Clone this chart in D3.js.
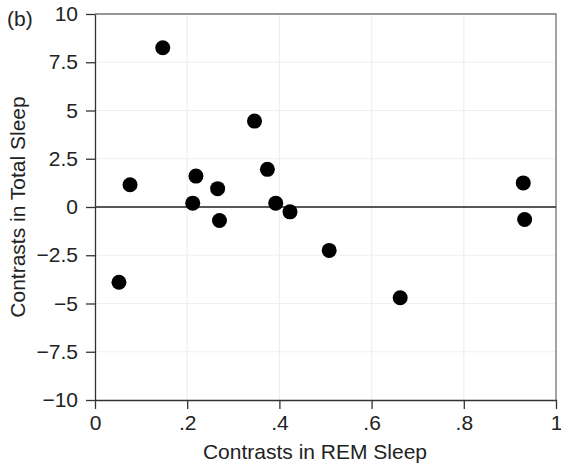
<!DOCTYPE html>
<html>

<head>
  <script src="https://cdn.jsdelivr.net/npm/d3@7"></script>
  <style>
    body {
      margin: 0;
      background: #fff;
      font-family: "Liberation Sans", Arial, sans-serif;
    }

    .grid line {
      stroke: #efefef;
      stroke-width: 1.2px;
    }

    .axis path,
    .axis line {
      stroke: #333;
      stroke-width: 1.3px;
    }

    .axis text {
      font-size: 21px;
      fill: #222;
    }

    .label {
      font-size: 21px;
      fill: #222;
    }
  </style>
</head>

<body>
  <div id="chart"></div>
  <script>
    // contrasts in REM sleep (x) and total sleep (y)
    const remContrasts = [0.052, 0.076, 0.147, 0.212, 0.219, 0.266, 0.27, 0.346, 0.374, 0.392, 0.423, 0.508, 0.662, 0.929, 0.932];
    const totalContrasts = [-3.9, 1.15, 8.25, 0.2, 1.6, 0.95, -0.7, 4.45, 1.95, 0.2, -0.25, -2.25, -4.7, 1.25, -0.65];
    const xTicks = [0, 0.2, 0.4, 0.6, 0.8, 1];
    const yTicks = [-10, -7.5, -5, -2.5, 0, 2.5, 5, 7.5, 10];

    const width = 561;
    const height = 469;
    const margin = { top: 14, right: 5, bottom: 69, left: 95 };

    const svg = d3.select("#chart").append("svg")
      .attr("width", width)
      .attr("height", height);

    const x = d3.scaleLinear().domain([0, 1]).range([margin.left, width - margin.right]);
    const y = d3.scaleLinear().domain([-10, 10]).range([height - margin.bottom, margin.top]);

    const fmtX = d => d === 0 ? "0" : d === 1 ? "1" : d3.format(".1f")(d).replace(/^0/, "");
    const fmtY = d => String(d).replace("-", "\u2212");

    // faint grid
    const grid = svg.append("g").attr("class", "grid");
    grid.selectAll(".gx").data(xTicks.slice(1)).enter().append("line")
      .attr("x1", d => x(d)).attr("x2", d => x(d))
      .attr("y1", y(10)).attr("y2", y(-10));
    grid.selectAll(".gy").data(yTicks.slice(1)).enter().append("line")
      .attr("x1", x(0)).attr("x2", x(1))
      .attr("y1", d => y(d)).attr("y2", d => y(d));

    // frame top / right
    svg.append("path")
      .attr("d", `M${x(0)},${y(10)}H${x(1)}V${y(-10)}`)
      .attr("fill", "none")
      .attr("stroke", "#777")
      .attr("stroke-width", 1.3);

    // zero line
    svg.append("line")
      .attr("x1", x(0)).attr("x2", x(1))
      .attr("y1", y(0)).attr("y2", y(0))
      .attr("stroke", "#222")
      .attr("stroke-width", 1.5);

    svg.append("g")
      .attr("class", "axis")
      .attr("transform", `translate(0,${y(-10)})`)
      .call(d3.axisBottom(x).tickValues(xTicks).tickFormat(fmtX).tickSize(9).tickPadding(6).tickSizeOuter(0));

    svg.append("g")
      .attr("class", "axis")
      .attr("transform", `translate(${x(0)},0)`)
      .call(d3.axisLeft(y).tickValues(yTicks).tickFormat(fmtY).tickSize(9).tickPadding(8).tickSizeOuter(0));

    svg.append("g")
      .selectAll("circle")
      .data(remContrasts)
      .enter().append("circle")
      .attr("cx", d => x(d))
      .attr("cy", (d, i) => y(totalContrasts[i]))
      .attr("r", 7.5)
      .attr("fill", "#000");

    svg.append("text")
      .attr("class", "label")
      .attr("x", 315)
      .attr("y", 459)
      .attr("text-anchor", "middle")
      .text("Contrasts in REM Sleep");

    svg.append("text")
      .attr("class", "label")
      .attr("transform", `translate(25,${(y(10) + y(-10)) / 2}) rotate(-90)`)
      .attr("text-anchor", "middle")
      .text("Contrasts in Total Sleep");

    svg.append("text")
      .attr("class", "label")
      .attr("x", 7)
      .attr("y", 26)
      .text("(b)");
  </script>
</body>

</html>
